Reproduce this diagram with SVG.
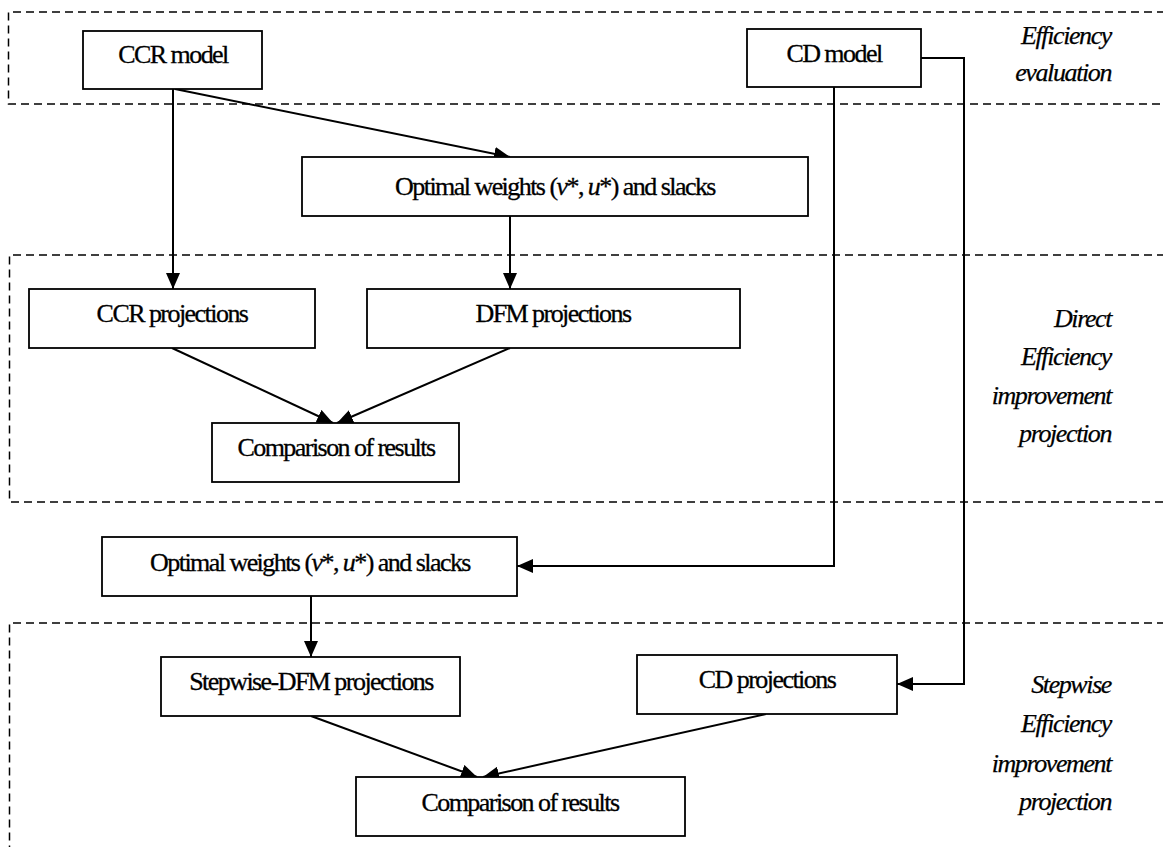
<svg xmlns="http://www.w3.org/2000/svg" width="1163" height="847" viewBox="0 0 1163 847">
<style>
.region{fill:none;stroke:#000;stroke-width:1.5;stroke-dasharray:8,5}
.box{fill:#fff;stroke:#000;stroke-width:1.8}
.lbl{font-size:26px;letter-spacing:-1.55px;text-anchor:middle;fill:#000;stroke:#000;stroke-width:0.3}
.side{font-size:26px;letter-spacing:-1.4px;font-style:italic;text-anchor:end;fill:#000;stroke:#000;stroke-width:0.25}
.it{font-style:italic}
.conn{fill:none;stroke:#000;stroke-width:2}
</style>
<defs>
<marker id="arr" viewBox="0 0 16 14" refX="16" refY="7" markerWidth="16" markerHeight="14" markerUnits="userSpaceOnUse" orient="auto">
<path d="M0,0 L16,7 L0,14 z" fill="#000"/>
</marker>
</defs>
<rect width="1163" height="847" fill="#fff"/>
<g id="regions" font-family="Liberation Serif, Times New Roman, DejaVu Serif, serif">
<path class="region" d="M1165,12 H8.5 V104 H1165"/>
<path class="region" d="M1165,255 H9.5 V502 H1165"/>
<path class="region" d="M1165,623 H9.5 V850"/>
<text class="side" x="1111" y="44">Efficiency</text>
<text class="side" x="1111" y="81">evaluation</text>
<text class="side" x="1111" y="327">Direct</text>
<text class="side" x="1111" y="365">Efficiency</text>
<text class="side" x="1111" y="404">improvement</text>
<text class="side" x="1111" y="442">projection</text>
<text class="side" x="1111" y="693">Stepwise</text>
<text class="side" x="1111" y="732">Efficiency</text>
<text class="side" x="1111" y="772">improvement</text>
<text class="side" x="1111" y="810">projection</text>
</g>
<g id="connectors">
<path class="conn" marker-end="url(#arr)" d="M173,89 V289"/>
<path class="conn" marker-end="url(#arr)" d="M175,89 L510,157"/>
<path class="conn" marker-end="url(#arr)" d="M510,216 V289"/>
<path class="conn" marker-end="url(#arr)" d="M172,348 L333,423"/>
<path class="conn" marker-end="url(#arr)" d="M510,348 L337,423"/>
<path class="conn" marker-end="url(#arr)" d="M834,87 V566 H517"/>
<path class="conn" marker-end="url(#arr)" d="M921,58 H964 V684 H897"/>
<path class="conn" marker-end="url(#arr)" d="M311,596 V657"/>
<path class="conn" marker-end="url(#arr)" d="M311,716 L477,777"/>
<path class="conn" marker-end="url(#arr)" d="M766,714 L483,777"/>
</g>
<g id="nodes" font-family="Liberation Serif, Times New Roman, DejaVu Serif, serif">
<g id="ccr-model">
<rect class="box" x="83" y="31" width="179" height="58"/>
<text class="lbl" x="173" y="63">CCR model</text>
</g>
<g id="cd-model">
<rect class="box" x="747" y="29" width="174" height="58"/>
<text class="lbl" x="834" y="62">CD model</text>
</g>
<g id="optimal-weights-1">
<rect class="box" x="302" y="157" width="506" height="59"/>
<text class="lbl" x="555" y="195">Optimal weights (<tspan class="it">v</tspan>*, <tspan class="it">u</tspan>*) and slacks</text>
</g>
<g id="ccr-projections">
<rect class="box" x="29" y="289" width="286" height="59"/>
<text class="lbl" x="172" y="322">CCR projections</text>
</g>
<g id="dfm-projections">
<rect class="box" x="367" y="289" width="373" height="59"/>
<text class="lbl" x="553" y="322">DFM projections</text>
</g>
<g id="comparison-1">
<rect class="box" x="212" y="423" width="247" height="59"/>
<text class="lbl" x="336" y="456">Comparison of results</text>
</g>
<g id="optimal-weights-2">
<rect class="box" x="102" y="537" width="415" height="59"/>
<text class="lbl" x="310" y="571">Optimal weights (<tspan class="it">v</tspan>*, <tspan class="it">u</tspan>*) and slacks</text>
</g>
<g id="stepwise-dfm-projections">
<rect class="box" x="161" y="657" width="299" height="59"/>
<text class="lbl" x="311" y="690">Stepwise-DFM projections</text>
</g>
<g id="cd-projections">
<rect class="box" x="637" y="655" width="260" height="59"/>
<text class="lbl" x="767" y="688">CD projections</text>
</g>
<g id="comparison-2">
<rect class="box" x="356" y="777" width="329" height="59"/>
<text class="lbl" x="520" y="811">Comparison of results</text>
</g>
</g>
</svg>
